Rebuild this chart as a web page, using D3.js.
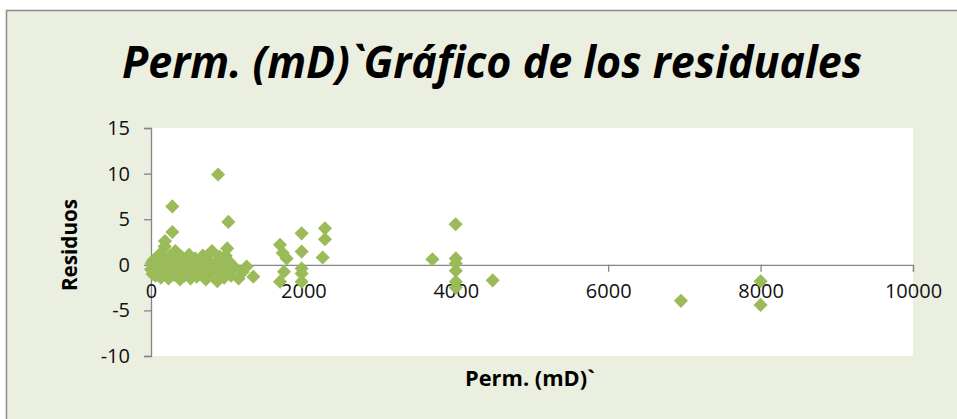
<!DOCTYPE html>
<html>
<head>
<meta charset="utf-8">
<script src="https://cdn.jsdelivr.net/npm/d3@7"></script>
<style>
  body { margin: 0; background: #fff; }
  text { font-family: "Open Sans", "Liberation Sans", sans-serif; }
</style>
</head>
<body>
<div class="container"></div>
<script>
const w = 957
const h = 419

// Perm. (mD) values and residuals
const perm = [
  0, 10, 20, 30, 50, 60, 80, 100, 100, 120, 130, 150, 160, 180, 200, 210, 230, 250, 260, 280,
  300, 320, 340, 350, 380, 400, 420, 440, 460, 480, 500, 520, 540, 560, 580, 600, 620, 650, 680, 700,
  720, 750, 780, 800, 820, 850, 870, 900, 920, 950, 960, 980, 1000, 1020, 1050, 1100, 1150, 1200, 1255, 1343,
  880, 280, 1015, 280, 184, 1000,
  1693, 1728, 1780, 1745, 1693, 1977, 1977, 1977, 1977, 1977, 2283, 2283, 2253,
  3998, 3693, 4000, 4000, 4000, 4000, 4000, 4484,
  6955, 8000, 8000
]
const resid = [
  -0.5, 0.2, -1.0, 0.5, -0.3, -1.2, 0.8, -0.6, 0.1, 1.2, -1.4, -0.2, 0.6, 2.0, -0.9, 0.3, -1.5, 1.0, -0.4, 0.4,
  -1.1, 1.5, -0.7, 0.2, -1.6, 0.9, -0.3, -1.2, 0.5, -0.8, 1.1, -1.5, 0.0, -0.6, 0.7, -1.3, 0.3, -0.9, 1.0, -0.2,
  -1.6, 0.5, -1.0, 1.5, -0.4, 0.2, -1.8, 0.9, -0.8, 0.1, -1.4, 1.0, -0.5, 0.4, -1.2, -0.3, -1.5, -0.8, -0.2, -1.3,
  9.9, 6.4, 4.7, 3.6, 2.6, 1.8,
  2.2, 1.3, 0.7, -0.75, -1.85, 3.45, 1.45, -0.4, -0.95, -1.85, 4.0, 2.8, 0.8,
  4.45, 0.6, 0.7, 0.15, -0.65, -1.85, -2.5, -1.7,
  -3.95, -1.8, -4.4
]
const xTicks = [0, 2000, 4000, 6000, 8000, 10000]
const yTicks = [-10, -5, 0, 5, 10, 15]

const plot = { left: 151, right: 913, top: 128, bottom: 356 }

const svg = d3.select('.container')
  .append('svg')
  .attr('width', w)
  .attr('height', h)

// chart area
svg.append('rect')
  .attr('x', 6.5).attr('y', 10.5)
  .attr('width', w + 10).attr('height', h + 10)
  .attr('fill', '#ebefdf')
  .attr('stroke', '#8c8c8c')
  .attr('stroke-width', 1.5)

svg.append('rect')
  .attr('x', plot.left).attr('y', plot.top)
  .attr('width', plot.right - plot.left).attr('height', plot.bottom - plot.top)
  .attr('fill', '#fff')

svg.append('text')
  .text('Perm. (mD)`Gráfico de los residuales')
  .attr('x', 122).attr('y', 78)
  .attr('textLength', 740)
  .attr('lengthAdjust', 'spacingAndGlyphs')
  .style('font-size', '44px')
  .style('font-weight', 'bold')
  .style('font-style', 'italic')
  .attr('fill', '#000')

const xScale = d3.scaleLinear().domain([0, 10000]).range([plot.left, plot.right])
const yScale = d3.scaleLinear().domain([-10, 15]).range([plot.bottom, plot.top])

const plain = d => String(d)

// y-axis
const yAxis = d3.axisLeft(yScale).tickValues(yTicks).tickFormat(plain).tickSize(7).tickPadding(14)
const gy = svg.append('g')
  .attr('transform', 'translate(' + plot.left + ', 0)')
  .call(yAxis)
gy.select('.domain').attr('stroke', '#868686').attr('stroke-width', 1.3)
gy.selectAll('.tick line').attr('stroke', '#868686').attr('stroke-width', 1.3)
gy.selectAll('.tick text').style('font-size', '20px').attr('fill', '#111')
  .attr('font-family', null)

// x-axis crosses at 0
const xAxis = d3.axisBottom(xScale).tickValues(xTicks).tickFormat(plain).tickSize(7).tickPadding(12)
const gx = svg.append('g')
  .attr('transform', 'translate(0, ' + yScale(0) + ')')
  .call(xAxis)
gx.select('.domain').attr('stroke', '#868686').attr('stroke-width', 1.3)
gx.selectAll('.tick line').attr('stroke', '#868686').attr('stroke-width', 1.3)
gx.selectAll('.tick text').style('font-size', '20px').attr('fill', '#111')
  .attr('font-family', null)

// axis titles
svg.append('text')
  .text('Residuos')
  .attr('transform', 'translate(77, 245) rotate(-90)')
  .attr('text-anchor', 'middle')
  .attr('textLength', 92)
  .attr('lengthAdjust', 'spacingAndGlyphs')
  .style('font-size', '21px')
  .style('font-weight', 'bold')

svg.append('text')
  .text('Perm. (mD)`')
  .attr('x', 530).attr('y', 386)
  .attr('text-anchor', 'middle')
  .attr('textLength', 130)
  .attr('lengthAdjust', 'spacingAndGlyphs')
  .style('font-size', '21px')
  .style('font-weight', 'bold')

// markers
const diamond = d3.symbol().type(d3.symbolSquare).size(100)
svg.append('g')
  .selectAll('path')
  .data(perm.map((p, i) => [p, resid[i]]))
  .enter()
  .append('path')
  .attr('d', diamond)
  .attr('transform', d => 'translate(' + xScale(d[0]) + ',' + yScale(d[1]) + ') rotate(45)')
  .attr('fill', '#9bbb59')
</script>
</body>
</html>
